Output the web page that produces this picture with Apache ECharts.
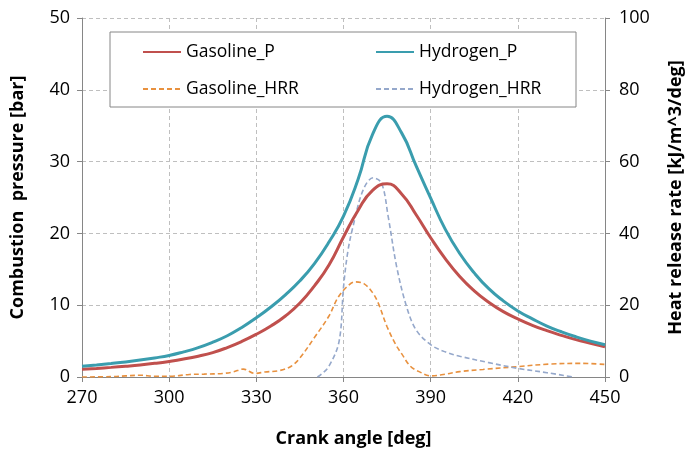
<!DOCTYPE html>
<html><head><meta charset="utf-8">
<script src="https://cdn.jsdelivr.net/npm/echarts@6/dist/echarts.min.js"></script>
<style>html,body{margin:0;padding:0;background:#fff}#c{width:700px;height:460px}</style>
</head><body><div id="c"></div>
<script>
var xTicks = [270, 300, 330, 360, 390, 420, 450];
var pAngle = [270,275,280,285,290,295,300,305,310,315,320,325,330,335,340,345,350,355,360,365,370,375,380,385,390,395,400,405,410,415,420,425,430,435,440,445,450];
var gasP = [1.07,1.2,1.34,1.5,1.68,1.9,2.17,2.5,2.9,3.4,4.1,4.95,5.95,7.1,8.5,10.3,12.7,15.6,19.5,23.2,26.0,26.9,25.5,22.6,19.4,16.5,14.0,12.0,10.4,9.1,8.1,7.2,6.45,5.8,5.2,4.7,4.2];
var h2P = [1.5,1.68,1.88,2.1,2.36,2.66,3.0,3.5,4.1,4.85,5.75,6.9,8.25,9.75,11.45,13.4,15.8,18.8,22.4,27.5,33.8,36.3,34.0,29.4,24.9,20.6,17.2,14.5,12.3,10.6,9.2,8.1,7.1,6.3,5.6,5.0,4.5];
var gasHrrAngle = [270,280,285,290,295,300,307,312,318.6,322,325.5,329.5,333,338,342,345,350,355,358,361,364,367,370,372,375,378,380,383,386,390,395,400,408,420,431,442,450];
var gasHrr = [0,0.1,0.3,0.5,0.2,0.2,0.7,0.8,1.0,1.4,2.2,1.0,1.4,1.8,3.0,5.3,11,17,22,25,26.5,26,23.5,20.5,14,9,6.5,3,1.5,0.3,0.8,1.5,2.1,2.9,3.6,3.8,3.5];
var h2HrrAngle = [351,352,355,358.5,360,361.5,363.3,366.7,370.2,373.1,375.4,378.3,381.7,385,390,395,400,410,420,430,439];
var h2Hrr = [0,0.5,3,10,25,35,42,52,55.5,54,44.6,30.7,19.6,13.1,9,7,5.8,4,2.4,1.2,0];

function pairs(a, v){ return a.map(function(x,i){ return [x, v[i]]; }); }

var FONT = 'Open Sans';
var chart = echarts.init(document.getElementById('c'), null, {renderer:'canvas'});
var axisLine = {show:true, lineStyle:{color:'#868686', width:1}};
var gridLine = {show:true, lineStyle:{color:'#BFBFBF', type:[4,3], width:1}};
var legendText = {fontFamily:FONT, fontSize:17.5, color:'#000'};
var legendBase = {orient:'vertical', top:38, itemWidth:38, itemHeight:14, itemGap:19, z:10, textStyle:legendText, itemStyle:{opacity:0}};
chart.setOption({
  animation:false,
  textStyle:{fontFamily:FONT},
  grid:{left:82, right:95, top:18, bottom:83},
  graphic:[{type:'rect', shape:{x:110, y:32, width:466, height:75}, style:{fill:'#fff', stroke:'#868686', lineWidth:1}, z:5}],
  legend:[
    Object.assign({data:['Gasoline_P','Gasoline_HRR'], left:137}, legendBase),
    Object.assign({data:['Hydrogen_P','Hydrogen_HRR'], left:370}, legendBase)
  ],
  xAxis:{type:'value', min:270, max:450, interval:30,
    name:'Crank angle [deg]', nameLocation:'middle', nameGap:53,
    nameTextStyle:{fontFamily:FONT, fontWeight:'bold', fontSize:18, color:'#000', padding:[0,0,0,20]},
    axisLine:axisLine, axisTick:{show:true, length:5, lineStyle:{color:'#868686'}},
    axisLabel:{fontFamily:FONT, fontSize:18, color:'#000', margin:12,
      formatter:function(v){ return xTicks.indexOf(v)>=0 ? String(v) : ''; }},
    splitLine:gridLine},
  yAxis:[
    {type:'value', min:0, max:50, interval:10, position:'left',
     name:'Combustion  pressure [bar]', nameLocation:'middle', nameGap:55,
     nameTextStyle:{fontFamily:FONT, fontWeight:'bold', fontSize:18, color:'#000'},
     axisLine:axisLine, axisTick:{show:true, length:5, lineStyle:{color:'#868686'}},
     axisLabel:{fontFamily:FONT, fontSize:18, color:'#000', margin:12},
     splitLine:gridLine},
    {type:'value', min:0, max:100, interval:20, position:'right',
     name:'Heat release rate [kJ/m^3/deg]', nameLocation:'middle', nameGap:62,
     nameTextStyle:{fontFamily:FONT, fontWeight:'bold', fontSize:18, color:'#000'},
     axisLine:axisLine, axisTick:{show:true, length:5, lineStyle:{color:'#868686'}},
     axisLabel:{fontFamily:FONT, fontSize:18, color:'#000', margin:14},
     splitLine:{show:false}}
  ],
  series:[
    {name:'Gasoline_P', type:'line', yAxisIndex:0, data:pairs(pAngle,gasP), smooth:0.5, symbol:'none', showSymbol:false,
     color:'#C0504D', lineStyle:{color:'#C0504D', width:3}, z:4},
    {name:'Hydrogen_P', type:'line', yAxisIndex:0, data:pairs(pAngle,h2P), smooth:0.5, symbol:'none', showSymbol:false,
     color:'#3A9DAE', lineStyle:{color:'#3A9DAE', width:3}, z:4},
    {name:'Gasoline_HRR', type:'line', yAxisIndex:1, data:pairs(gasHrrAngle,gasHrr), smooth:0.35, symbol:'none', showSymbol:false,
     color:'#E8913F', lineStyle:{color:'#E8913F', width:1.6, type:[5,3]}, z:3},
    {name:'Hydrogen_HRR', type:'line', yAxisIndex:1, data:pairs(h2HrrAngle,h2Hrr), smooth:0.35, symbol:'none', showSymbol:false,
     color:'#95A8CB', lineStyle:{color:'#95A8CB', width:1.6, type:[5,3]}, z:3}
  ]
});
</script></body></html>
